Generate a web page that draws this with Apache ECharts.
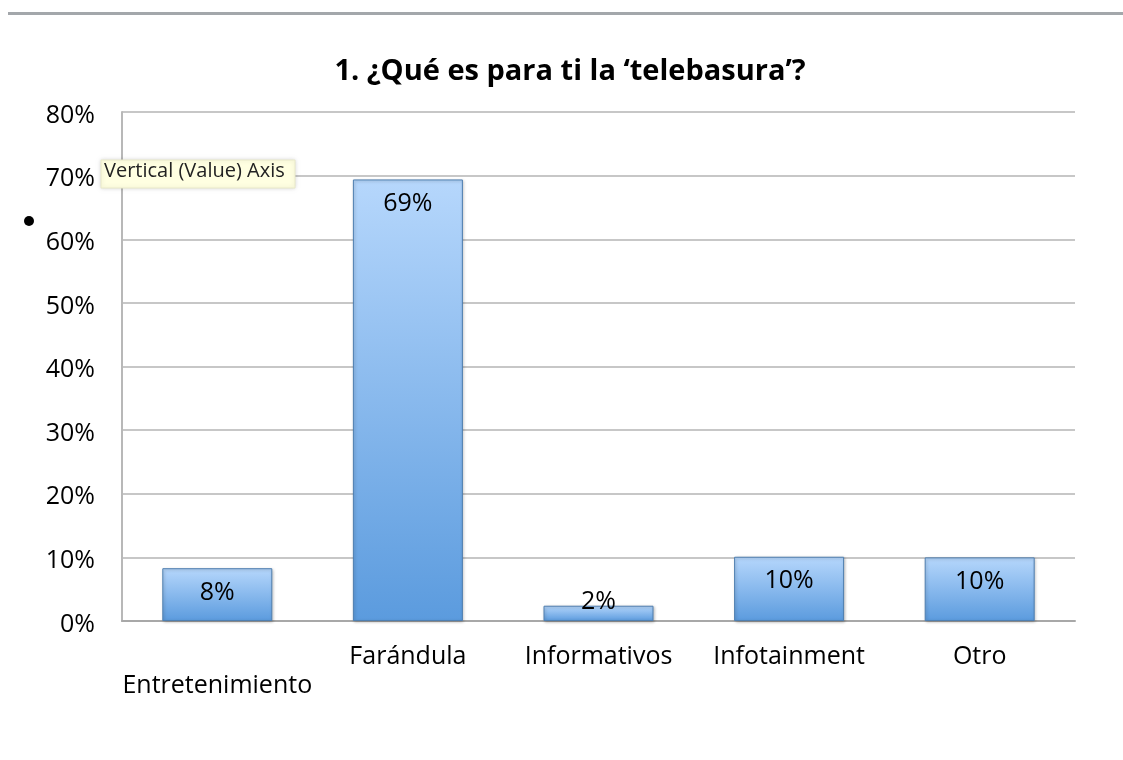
<!DOCTYPE html>
<html>
<head>
<meta charset="utf-8">
<script src="https://cdn.jsdelivr.net/npm/echarts@6/dist/echarts.min.js"></script>
<style>
  html, body { margin: 0; padding: 0; background: #fff; }
  #chart { width: 1123px; height: 760px; }
</style>
</head>
<body>
<div id="chart"></div>
<script>
const categories = ['Entretenimiento', 'Farándula', 'Informativos', 'Infotainment', 'Otro']
const values = [8.3, 69.4, 2.4, 10.1, 10.0]
const labels = ['8%', '69%', '2%', '10%', '10%']
const yTicks = [0, 10, 20, 30, 40, 50, 60, 70, 80]

const font = '"Open Sans", "Noto Sans", sans-serif'

const chart = echarts.init(document.getElementById('chart'))

const barColor = new echarts.graphic.LinearGradient(0, 0, 0, 1, [
  { offset: 0, color: '#b6d7fc' },
  { offset: 1, color: '#5b9bde' },
])

const option = {
  animation: false,
  title: {
    text: '1. ¿Qué es para ti la ‘telebasura’?',
    left: 565,
    top: 52,
    textAlign: 'center',
    textStyle: { fontFamily: font, fontSize: 29, fontWeight: 'bold', color: '#000' },
  },
  grid: { left: 122, right: 48, top: 112, bottom: 139 },
  xAxis: {
    type: 'category',
    data: categories,
    axisLine: { lineStyle: { color: '#a8a8a8', width: 2 } },
    axisTick: { show: false },
    axisLabel: {
      interval: 0,
      margin: 21,
      fontFamily: font,
      fontSize: 25,
      color: '#000',
      lineHeight: 29,
      formatter: (val, idx) => (idx === 0 ? '\n' + val : val),
    },
  },
  yAxis: {
    type: 'value',
    min: 0,
    max: 80,
    interval: 10,
    axisLine: { show: true, lineStyle: { color: '#b8b8b8', width: 2 } },
    axisTick: { show: false },
    splitLine: { lineStyle: { color: '#b4b4b4', width: 1.5 } },
    axisLabel: {
      margin: 27,
      color: '#000',
      formatter: (v) => (yTicks.includes(v) ? '{p|' + v + '%}' : ''),
      rich: {
        p: { fontFamily: font, fontSize: 25, color: '#000', padding: [7, 0, 0, 0] },
      },
    },
  },
  series: [
    {
      type: 'bar',
      barWidth: 110,
      data: values.map((v, i) => {
        const item = { value: v }
        if (i === 2) {
          item.label = { position: 'top', distance: -9 }
        }
        return item
      }),
      itemStyle: {
        color: barColor,
        borderColor: '#4f7fb0',
        borderWidth: 1,
        shadowColor: 'rgba(0,0,0,0.25)',
        shadowBlur: 3,
        shadowOffsetX: 1,
        shadowOffsetY: 1,
      },
      label: {
        show: true,
        position: 'insideTop',
        distance: 12,
        fontFamily: font,
        fontSize: 25,
        color: '#000',
        formatter: (p) => labels[p.dataIndex],
      },
    },
  ],
  graphic: [
    {
      type: 'rect',
      shape: { x: 8, y: 12, width: 1115, height: 3 },
      style: { fill: '#a3a7ab' },
    },
    {
      type: 'circle',
      shape: { cx: 29, cy: 221, r: 5 },
      style: { fill: '#000' },
    },
    {
      type: 'rect',
      z: 100,
      shape: { x: 101, y: 160, width: 194, height: 28 },
      style: { fill: '#ffffe1', stroke: '#e8e8c8', lineWidth: 1, shadowColor: 'rgba(0,0,0,0.15)', shadowBlur: 4 },
    },
    {
      type: 'text',
      z: 101,
      left: 104,
      top: 161,
      style: { text: 'Vertical (Value) Axis', fontFamily: font, fontSize: 20, fill: '#222' },
    },
  ],
}

chart.setOption(option)
</script>
</body>
</html>
